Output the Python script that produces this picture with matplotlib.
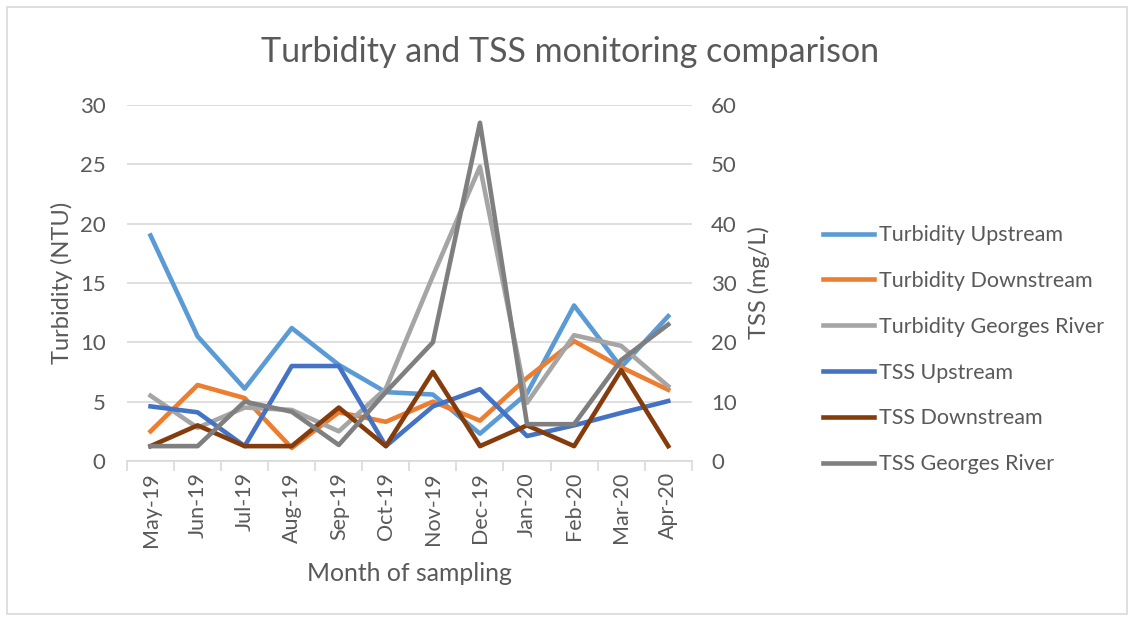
import matplotlib
matplotlib.use("Agg")
import matplotlib.pyplot as plt
from matplotlib.patches import Rectangle
import numpy as np

months = ["May-19", "Jun-19", "Jul-19", "Aug-19", "Sep-19", "Oct-19",
          "Nov-19", "Dec-19", "Jan-20", "Feb-20", "Mar-20", "Apr-20"]

# turbidity, NTU (left axis)
turb_up = [19.0, 10.5, 6.1, 11.2, 8.1, 5.8, 5.6, 2.3, 5.7, 13.1, 7.9, 12.2]
turb_down = [2.5, 6.4, 5.3, 1.1, 4.1, 3.3, 5.0, 3.4, 7.0, 10.1, 7.9, 6.0]
turb_gr = [5.5, 2.8, 4.5, 4.3, 2.5, 6.1, 15.6, 24.8, 4.9, 10.6, 9.7, 6.3]

# TSS, mg/L (right axis)
tss_up = [9.2, 8.2, 2.5, 16.0, 16.0, 2.5, 9.2, 12.1, 4.2, 6.0, 8.1, 10.1]
tss_down = [2.5, 6.0, 2.5, 2.5, 9.0, 2.5, 15.0, 2.5, 6.0, 2.5, 15.3, 2.5]
tss_gr = [2.5, 2.5, 10.0, 8.3, 2.7, 11.6, 20.0, 57.0, 6.2, 6.2, 17.0, 23.0]

txt = "#595959"
plt.rcParams["font.family"] = ["Lato", "DejaVu Sans"]

fig = plt.figure(figsize=(11.34, 6.21), dpi=100)
ax = fig.add_axes([0.112, 0.2577, 0.498, 0.5733])
ax2 = ax.twinx()

x = np.arange(len(months))
lw = 3.3
l1, = ax.plot(x, turb_up, color="#5B9BD5", lw=lw, label="Turbidity Upstream")
l2, = ax.plot(x, turb_down, color="#ED7D31", lw=lw, label="Turbidity Downstream")
l3, = ax.plot(x, turb_gr, color="#A5A5A5", lw=lw, label="Turbidity Georges River")
l4, = ax2.plot(x, tss_up, color="#4472C4", lw=lw, label="TSS Upstream")
l5, = ax2.plot(x, tss_down, color="#843C0C", lw=lw, label="TSS Downstream")
l6, = ax2.plot(x, tss_gr, color="#7F7F7F", lw=lw, label="TSS Georges River")

ax.set_xlim(-0.5, 11.5)
ax.set_ylim(0, 30)
ax2.set_ylim(0, 60)
ax.set_yticks(range(0, 31, 5))
ax2.set_yticks(range(0, 61, 10))
ax.grid(axis="y", color="#D9D9D9", lw=1.2)
ax.set_axisbelow(True)

ax.set_xticks(x)
ax.set_xticklabels(months, rotation=90)
ax.set_xticks(np.arange(-0.5, 12, 1), minor=True)
ax.tick_params(axis="x", which="major", length=0, pad=8, labelsize=15.5, labelcolor=txt)
ax.tick_params(axis="x", which="minor", length=7, color="#D9D9D9", width=1.2)
ax.tick_params(axis="y", length=0, pad=15.5, labelsize=16, labelcolor=txt)
ax2.tick_params(axis="y", length=0, pad=14, labelsize=16, labelcolor=txt)

for a in (ax, ax2):
    for s in ("top", "left", "right"):
        a.spines[s].set_visible(False)
ax.spines["bottom"].set_color("#D9D9D9")
ax.spines["bottom"].set_linewidth(1.2)
ax2.spines["bottom"].set_visible(False)

ax.set_xlabel("Month of sampling", fontsize=17.8, color=txt, labelpad=11)
ax.set_ylabel("Turbidity (NTU)", fontsize=17, color=txt, labelpad=5)
ax2.set_ylabel("TSS (mg/L)", fontsize=17, color=txt, rotation=90, labelpad=8)

fig.suptitle("Turbidity and TSS monitoring comparison", fontsize=24.5, color=txt,
             x=0.503, y=0.942)

leg = ax2.legend(handles=[l1, l2, l3, l4, l5, l6], loc="center left",
                 bbox_to_anchor=(0.718, 0.437), bbox_transform=fig.transFigure,
                 frameon=False, fontsize=15.5, handlelength=2.4, handletextpad=0.22,
                 labelspacing=1.2, borderaxespad=0)
for t in leg.get_texts():
    t.set_color(txt)

fig.patches.append(Rectangle((0.006, 0.011), 0.988, 0.978, transform=fig.transFigure,
                             fill=False, edgecolor="#D9D9D9", lw=1.2))

fig.savefig("out.png", dpi=100)
